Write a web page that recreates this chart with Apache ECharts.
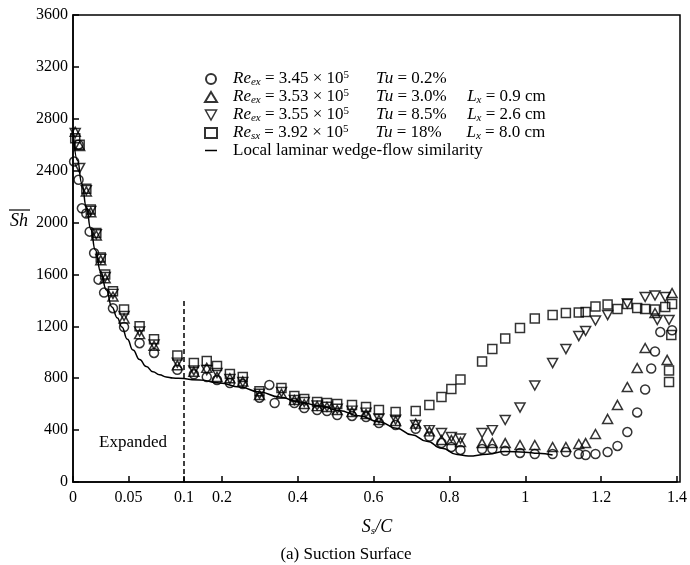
<!DOCTYPE html>
<html>
<head>
<meta charset="utf-8">
<script src="https://cdn.jsdelivr.net/npm/echarts@6/dist/echarts.min.js"></script>
<style>
  html, body { margin: 0; padding: 0; background: #fff; }
  #main { width: 690px; height: 565px; }
</style>
</head>
<body>
<div id="main"></div>
<script>
// x <= 0.1 is drawn on an expanded scale (left panel), the rest on the normal one
var SPLIT = 0.1;

// Re 3.45e5, Tu 0.2%
var circlePts = [
  [0.001, 2470], [0.005, 2600], [0.005, 2330], [0.008, 2110], [0.012, 2070], [0.015, 1930],
  [0.019, 1765], [0.023, 1560], [0.028, 1460], [0.036, 1340], [0.046, 1195], [0.060, 1070],
  [0.073, 995], [0.094, 865],
  [0.126, 830], [0.160, 810], [0.187, 786], [0.221, 763], [0.255, 755], [0.299, 650],
  [0.325, 748], [0.339, 609], [0.391, 609], [0.417, 570], [0.451, 555], [0.477, 547],
  [0.504, 516], [0.543, 509], [0.580, 501], [0.614, 455], [0.658, 440], [0.711, 410],
  [0.747, 350], [0.779, 300], [0.805, 270], [0.829, 247], [0.886, 254], [0.913, 254],
  [0.947, 240], [0.986, 224], [1.025, 216], [1.072, 216], [1.107, 231], [1.141, 216],
  [1.159, 208], [1.185, 216], [1.217, 231], [1.243, 278], [1.269, 385], [1.295, 536],
  [1.316, 713], [1.332, 875], [1.342, 1006], [1.356, 1156], [1.387, 1170]
];
// Re 3.53e5, Tu 3.0%
var trianglePts = [
  [0.002, 2700], [0.006, 2590], [0.012, 2240], [0.016, 2080], [0.021, 1900], [0.025, 1710],
  [0.029, 1570], [0.036, 1430], [0.046, 1260], [0.060, 1140], [0.073, 1050], [0.094, 900],
  [0.126, 850], [0.160, 880], [0.187, 810], [0.221, 800], [0.255, 775], [0.299, 670],
  [0.357, 680], [0.391, 632], [0.417, 601], [0.451, 585], [0.477, 578], [0.504, 555],
  [0.543, 540], [0.580, 524], [0.614, 478], [0.658, 470], [0.711, 450], [0.747, 390],
  [0.779, 324], [0.805, 324], [0.829, 308], [0.886, 300], [0.913, 300], [0.947, 300],
  [0.986, 285], [1.025, 285], [1.072, 270], [1.107, 270], [1.141, 293], [1.159, 300],
  [1.185, 370], [1.217, 486], [1.243, 594], [1.269, 732], [1.295, 879], [1.316, 1033],
  [1.342, 1303], [1.374, 941], [1.387, 1457]
];
// Re 3.55e5, Tu 8.5%
var downTriPts = [
  [0.002, 2690], [0.006, 2420], [0.012, 2250], [0.016, 2090], [0.021, 1910], [0.025, 1720],
  [0.029, 1580], [0.036, 1450], [0.046, 1280], [0.060, 1160], [0.073, 1060], [0.094, 920],
  [0.126, 860], [0.160, 863], [0.187, 840], [0.221, 794], [0.255, 771], [0.299, 680],
  [0.357, 694], [0.391, 632], [0.417, 617], [0.451, 590], [0.477, 580], [0.504, 565],
  [0.543, 550], [0.580, 535], [0.614, 490], [0.658, 480], [0.711, 440], [0.747, 400],
  [0.779, 378], [0.805, 347], [0.829, 335], [0.886, 378], [0.913, 400], [0.947, 478],
  [0.986, 574], [1.025, 744], [1.072, 917], [1.107, 1025], [1.141, 1125], [1.159, 1164],
  [1.185, 1245], [1.217, 1287], [1.269, 1376], [1.316, 1426], [1.342, 1438], [1.348, 1249],
  [1.369, 1426], [1.379, 1249]
];
// Re 3.92e5, Tu 18%
var squarePts = [
  [0.002, 2650], [0.006, 2600], [0.012, 2260], [0.016, 2100], [0.021, 1920], [0.025, 1730],
  [0.029, 1600], [0.036, 1470], [0.046, 1330], [0.060, 1200], [0.073, 1100], [0.094, 975],
  [0.126, 917], [0.160, 933], [0.187, 894], [0.221, 833], [0.255, 809], [0.299, 700],
  [0.357, 725], [0.391, 663], [0.417, 640], [0.451, 617], [0.477, 609], [0.504, 601],
  [0.543, 594], [0.580, 578], [0.614, 555], [0.658, 540], [0.711, 547], [0.747, 594],
  [0.779, 655], [0.805, 717], [0.829, 790], [0.886, 929], [0.913, 1025], [0.947, 1106],
  [0.986, 1187], [1.025, 1260], [1.072, 1287], [1.107, 1303], [1.141, 1306], [1.159, 1310],
  [1.185, 1353], [1.217, 1368], [1.243, 1333], [1.269, 1372], [1.295, 1341], [1.316, 1333],
  [1.342, 1330], [1.369, 1349], [1.387, 1372], [1.385, 1133], [1.379, 860], [1.379, 771]
];
// local laminar wedge-flow similarity
var laminarPts = [
  [0.000, 2720], [0.004, 2480], [0.008, 2300], [0.012, 2120], [0.016, 1950], [0.020, 1790],
  [0.025, 1620], [0.030, 1480], [0.035, 1350], [0.040, 1265], [0.044, 1195], [0.049, 1100],
  [0.054, 1018], [0.060, 945], [0.066, 890], [0.072, 850], [0.078, 826], [0.084, 810],
  [0.090, 802], [0.095, 799], [0.100, 798],
  [0.142, 786], [0.194, 763], [0.247, 732], [0.299, 694], [0.352, 655], [0.404, 617],
  [0.456, 588], [0.509, 552], [0.561, 510], [0.614, 465], [0.660, 415], [0.700, 365],
  [0.740, 315], [0.780, 260], [0.820, 212], [0.850, 200], [0.900, 214], [0.947, 236],
  [1.000, 230], [1.033, 222], [1.072, 208]
];

var xTicksRight = [0.2, 0.4, 0.6, 0.8, 1, 1.2, 1.4];
var yMax = 3600, yStep = 400;
var expandedTop = 1400;

var legendRe = ['3.45', '3.53', '3.55', '3.92'];
var legendSub = ['ex', 'ex', 'ex', 'sx'];
var legendTu = ['0.2%', '3.0%', '8.5%', '18%'];
var legendLx = ['', '0.9 cm', '2.6 cm', '8.0 cm'];
var legendNames = ['c', 't', 'd', 's', 'l'];

var FONT = '"Liberation Serif", "Times New Roman", serif';

function leftPart(pts) { return pts.filter(function (p) { return p[0] <= SPLIT; }); }
function rightPart(pts) { return pts.filter(function (p) { return p[0] >= SPLIT; }); }

var markStyle = { color: 'rgba(0,0,0,0)', borderColor: '#000', borderWidth: 1.5 };

function scatterPair(name, pts, symbol, size, rotate) {
  var base = {
    name: name, type: 'scatter', symbol: symbol, symbolSize: size, symbolRotate: rotate || 0,
    itemStyle: markStyle, z: 3, silent: true
  };
  return [
    Object.assign({}, base, { xAxisIndex: 0, yAxisIndex: 0, data: leftPart(pts) }),
    Object.assign({}, base, { xAxisIndex: 1, yAxisIndex: 1, data: rightPart(pts) })
  ];
}

var axisLineStyle = { show: true, lineStyle: { color: '#000', width: 1.5 } };
var tickStyle = { show: true, inside: true, length: 6, lineStyle: { color: '#000', width: 1.5 } };
var labelStyle = { color: '#000', fontFamily: FONT, fontSize: 16, formatter: function (v) { return String(v); } };

var series = []
  .concat(scatterPair('c', circlePts, 'circle', 9))
  .concat(scatterPair('t', trianglePts, 'triangle', [10, 9]))
  .concat(scatterPair('d', downTriPts, 'triangle', [10, 9], 180))
  .concat(scatterPair('s', squarePts, 'rect', 9));

series.push({
  name: 'l', type: 'line', xAxisIndex: 0, yAxisIndex: 0, data: leftPart(laminarPts),
  symbol: 'none', smooth: true, smoothMonotone: 'x', itemStyle: { color: '#000' },
  lineStyle: { color: '#000', width: 1.5 }, z: 2, silent: true
});
series.push({
  name: 'l', type: 'line', xAxisIndex: 1, yAxisIndex: 1, data: rightPart(laminarPts),
  symbol: 'none', smooth: true, smoothMonotone: 'x', clip: false, itemStyle: { color: '#000' },
  lineStyle: { color: '#000', width: 1.5 }, z: 2, silent: true,
  markLine: {
    silent: true, symbol: ['none', 'none'], label: { show: false },
    lineStyle: { type: [5, 3], color: '#000', width: 1.5 },
    data: [[{ coord: [SPLIT, 0] }, { coord: [SPLIT, expandedTop] }]]
  }
});

function legendText(name) {
  if (name === 'l') return '{sp| }{n|Local laminar wedge-flow similarity}';
  var i = legendNames.indexOf(name);
  var s = '{sp| }{i|Re}{sub|' + legendSub[i] + '}{n| = ' + legendRe[i] + ' × 10}{sup|5}{g| }' +
          '{i|Tu}{tv| = ' + legendTu[i] + '}';
  if (legendLx[i]) s += '{i|L}{sub|x}{n| = ' + legendLx[i] + '}';
  return s;
}

var legendData = [
  { name: 'c' },
  { name: 't' },
  { name: 'd', icon: 'path://M0,0 L10,0 L5,9 Z', itemStyle: markStyle },
  { name: 's' },
  { name: 'l', icon: 'path://M0,0 L12,0 L12,1.5 L0,1.5 Z', itemStyle: { color: '#000', borderWidth: 0 } }
];

var chart = echarts.init(document.getElementById('main'));
chart.setOption({
  animation: false,
  backgroundColor: '#fff',
  grid: [
    { left: 73, width: 111, top: 15, bottom: 83 },
    { left: 184, right: 10, top: 15, bottom: 83 },
    { left: 73, right: 10, top: 15, bottom: 83, show: true, borderColor: '#000', borderWidth: 1.5,
      backgroundColor: 'rgba(0,0,0,0)' }
  ],
  xAxis: [
    { gridIndex: 0, type: 'value', min: 0, max: SPLIT, interval: 0.05,
      axisLine: axisLineStyle, axisTick: tickStyle, splitLine: { show: false },
      axisLabel: Object.assign({ margin: 8 }, labelStyle) },
    { gridIndex: 1, type: 'value', min: SPLIT, max: 1.4,
      axisLine: axisLineStyle, splitLine: { show: false },
      axisTick: Object.assign({ customValues: xTicksRight }, tickStyle),
      axisLabel: Object.assign({ margin: 8, customValues: xTicksRight }, labelStyle) },
    { gridIndex: 2, type: 'value', show: false, min: 0, max: 1 }
  ],
  yAxis: [
    { gridIndex: 0, type: 'value', min: 0, max: yMax, interval: yStep,
      axisLine: axisLineStyle, axisTick: tickStyle, splitLine: { show: false },
      axisLabel: Object.assign({ margin: 5 }, labelStyle) },
    { gridIndex: 1, type: 'value', min: 0, max: yMax, interval: yStep, show: false },
    { gridIndex: 2, type: 'value', show: false, min: 0, max: 1 }
  ],
  legend: {
    data: legendData, orient: 'vertical', left: 199, top: 65,
    itemWidth: 12, itemHeight: 10, itemGap: 0, selectedMode: false,
    formatter: legendText,
    textStyle: {
      color: '#000', fontFamily: FONT, fontSize: 17,
      rich: {
        sp: { width: 11 },
        n: { fontFamily: FONT, fontSize: 17, lineHeight: 18 },
        i: { fontFamily: FONT, fontSize: 17, fontStyle: 'italic', lineHeight: 18 },
        sub: { fontFamily: FONT, fontSize: 11, fontStyle: 'italic', lineHeight: 11, verticalAlign: 'bottom' },
        sup: { fontFamily: FONT, fontSize: 11, lineHeight: 11, verticalAlign: 'top' },
        g: { width: 27 },
        tv: { fontFamily: FONT, fontSize: 17, lineHeight: 18, width: 74 }
      }
    }
  },
  graphic: [
    { type: 'text', x: 19, y: 221,
      style: { text: 'Sh', font: 'italic 18px ' + FONT, fill: '#000', align: 'center', verticalAlign: 'middle' } },
    { type: 'line', shape: { x1: 9, y1: 210, x2: 30, y2: 210 }, style: { stroke: '#000', lineWidth: 1.2 } },
    { type: 'text', x: 377, y: 527,
      style: {
        text: '{i|S}{sub|s}{i|/C}', align: 'center', verticalAlign: 'middle', fill: '#000',
        rich: {
          i: { fontFamily: FONT, fontSize: 18, fontStyle: 'italic', lineHeight: 20 },
          sub: { fontFamily: FONT, fontSize: 11, fontStyle: 'italic', lineHeight: 11, verticalAlign: 'bottom' }
        }
      } },
    { type: 'text', x: 346, y: 555,
      style: { text: '(a) Suction Surface', font: '17px ' + FONT, fill: '#000', align: 'center', verticalAlign: 'middle' } },
    { type: 'text', x: 133, y: 443,
      style: { text: 'Expanded', font: '17px ' + FONT, fill: '#000', align: 'center', verticalAlign: 'middle' } }
  ],
  series: series
});
</script>
</body>
</html>
